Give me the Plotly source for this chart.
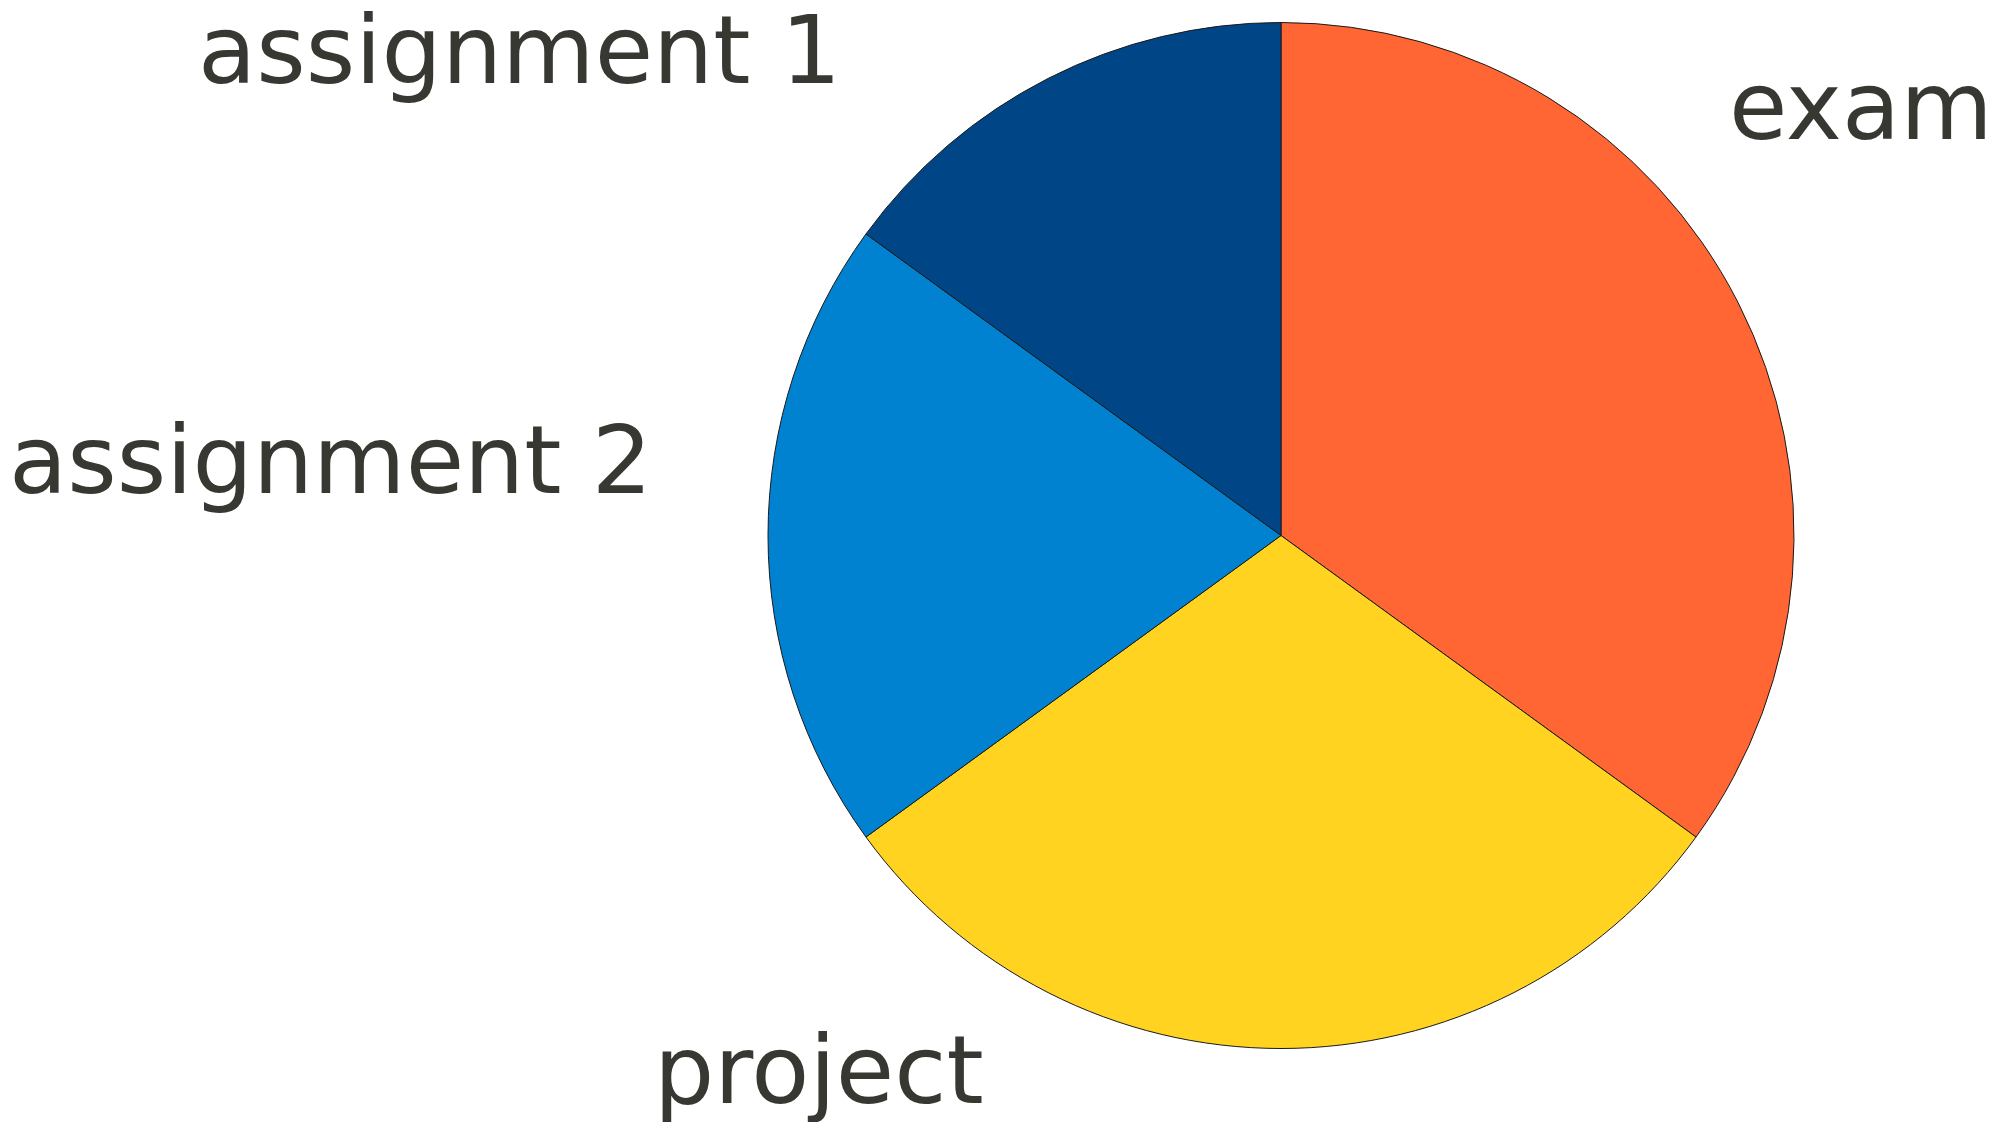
import plotly.graph_objects as go

labels = ["exam", "project", "assignment 2", "assignment 1"]
values = [35, 30, 20, 15]
colors = ["#FF6633", "#FFD320", "#0082D1", "#004586"]

# label anchor positions in pixels (layout only)
label_px = {
    "exam": (1727, 106),
    "project": (652, 1070),
    "assignment 2": (7, 460),
    "assignment 1": (196, 50),
}

W, H = 2009, 1122
cx, cy, r = 1281, 535.5, 513

fig = go.Figure(go.Pie(
    labels=labels,
    values=values,
    sort=False,
    direction="clockwise",
    rotation=0,
    textinfo="none",
    hoverinfo="skip",
    marker=dict(colors=colors, line=dict(color="#1a1a1a", width=1)),
    domain=dict(x=[(cx - r) / W, (cx + r) / W], y=[1 - (cy + r) / H, 1 - (cy - r) / H]),
    showlegend=False,
))

for lab in labels:
    px, py = label_px[lab]
    fig.add_annotation(
        text=lab, xref="paper", yref="paper",
        x=px / W, y=1 - py / H, xanchor="left", yanchor="middle",
        showarrow=False,
        font=dict(family="DejaVu Sans", size=95, color="#383833"),
    )

fig.update_layout(
    width=W, height=H,
    margin=dict(l=0, r=0, t=0, b=0),
    paper_bgcolor="white", plot_bgcolor="white",
)

fig.write_html("out.html")
